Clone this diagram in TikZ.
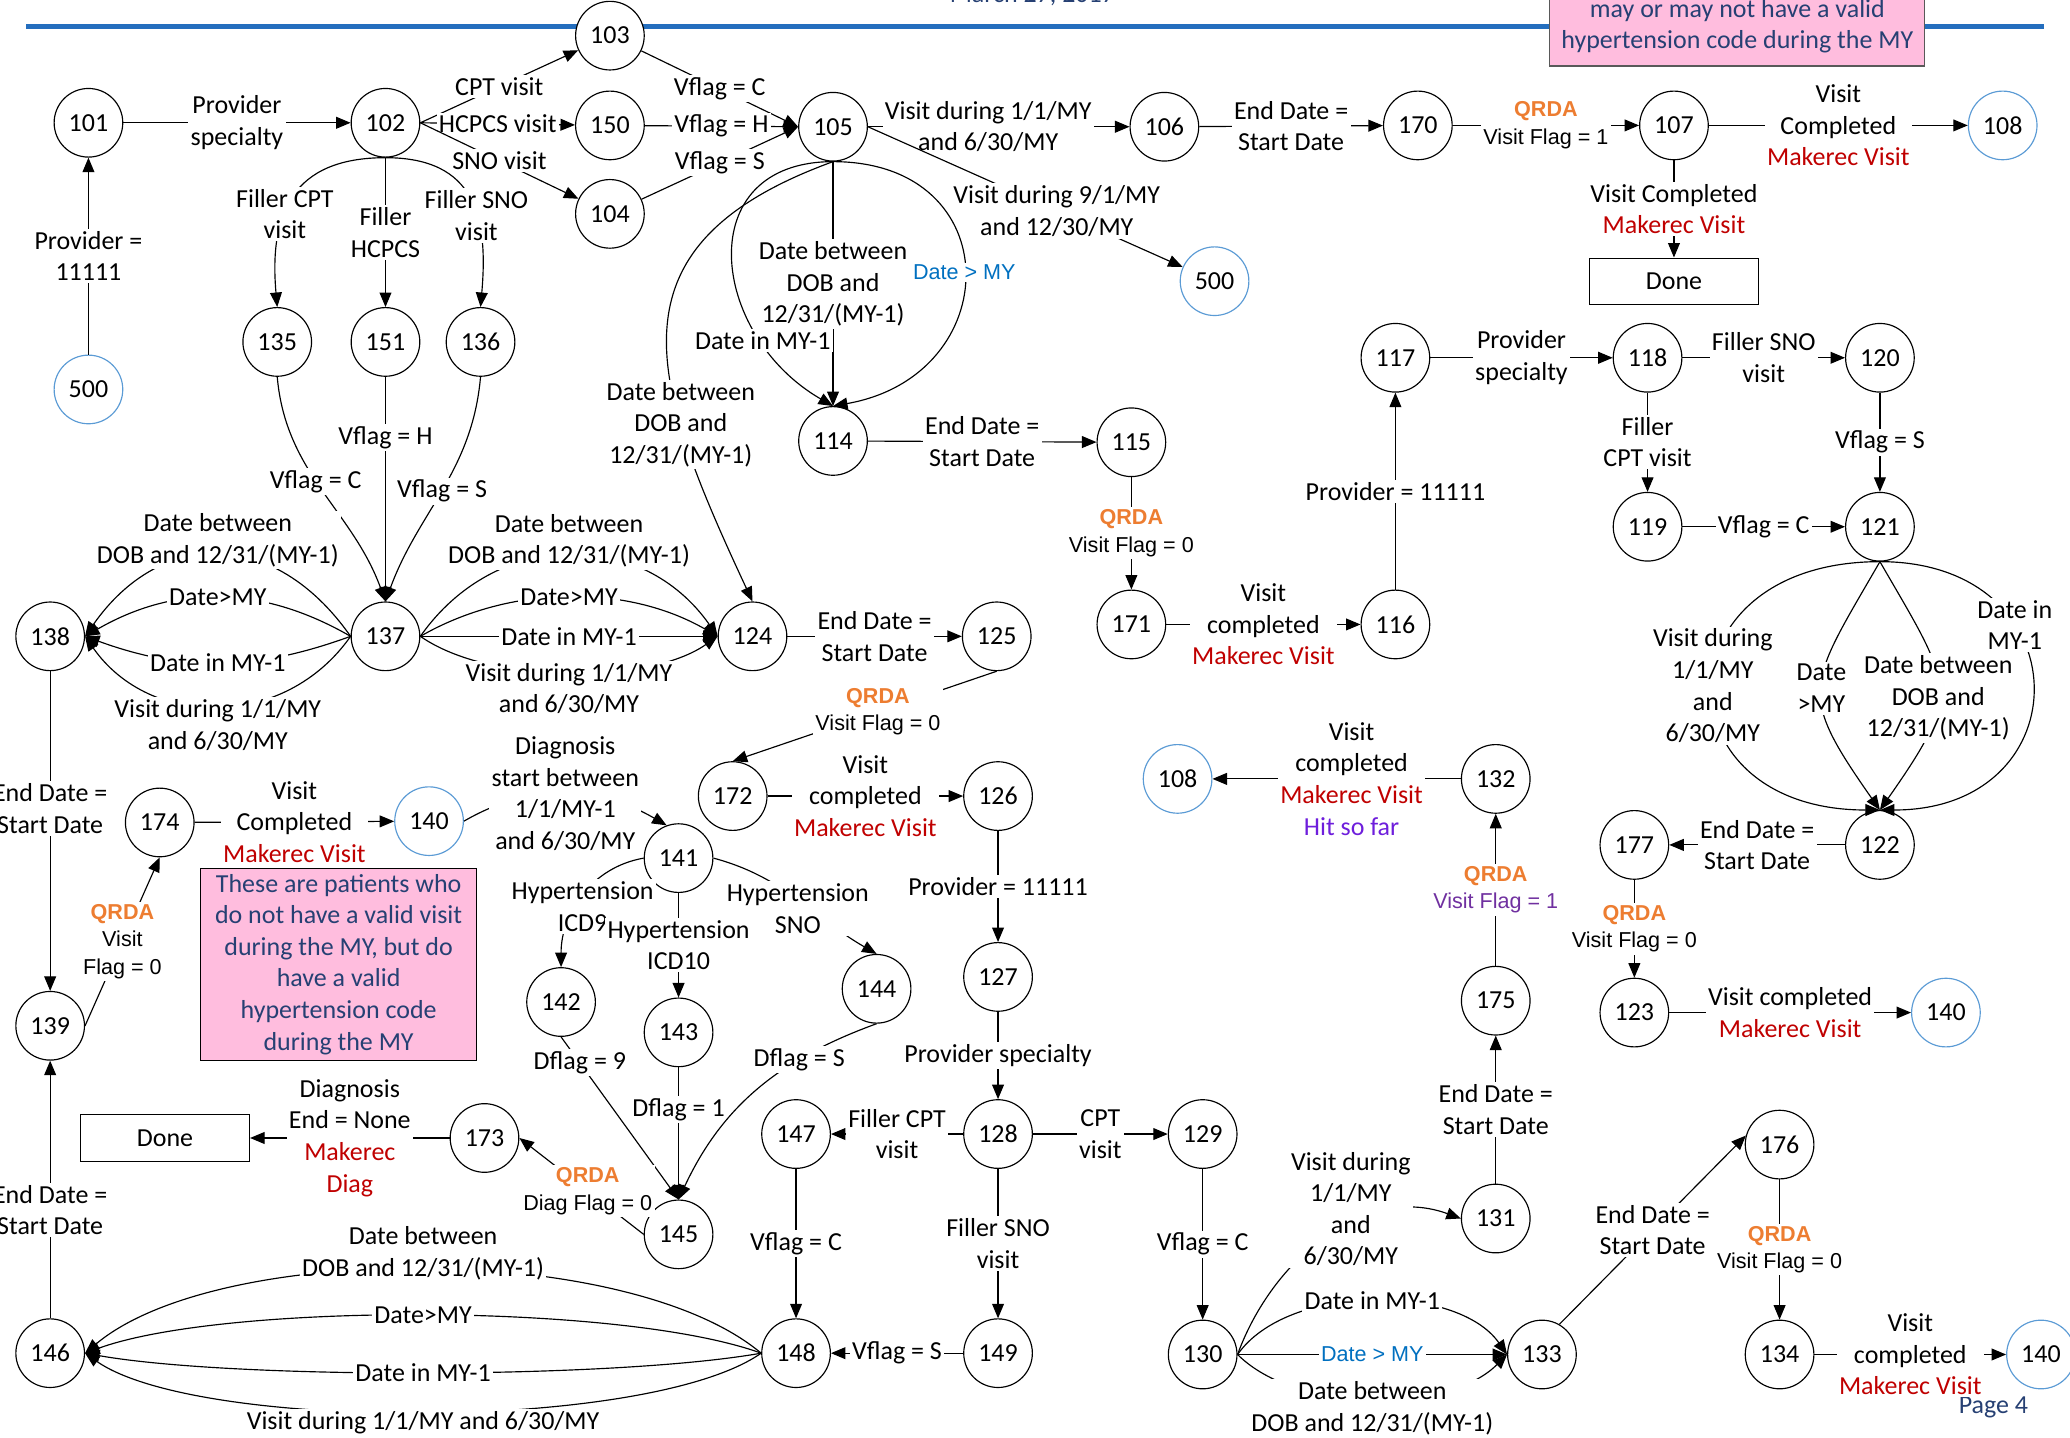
\documentclass[tikz,border=0pt]{standalone}
\usepackage{fontspec}
\setmainfont{Carlito}
\setsansfont{Liberation Sans}
\usepackage{tikz}
\usetikzlibrary{arrows.meta}

\definecolor{mkred}{RGB}{192,0,0}
\definecolor{qorange}{RGB}{237,125,49}
\definecolor{dtblue}{RGB}{0,112,192}
\definecolor{circblue}{RGB}{91,155,213}
\definecolor{hdrblue}{RGB}{36,110,190}
\definecolor{notepink}{RGB}{255,189,222}
\definecolor{notetext}{RGB}{38,64,115}
\definecolor{vfpurple}{RGB}{112,48,160}
\definecolor{hitviolet}{RGB}{110,30,220}

\newcommand{\mainsize}{\fontsize{11.2}{13.6}\selectfont}
\newcommand{\qsize}{\fontsize{9.3}{11.9}\selectfont\sffamily}
\newcommand{\mkv}{\textcolor{mkred}{Makerec Visit}}
\newcommand{\qrdatag}{{\bfseries\color{qorange}QRDA}}

\begin{document}
\begin{tikzpicture}[
    x=0.02cm, y=-0.02cm, % one unit = one pixel of the layout
    line width=0.5pt,
    >={Triangle[length=2.2mm,width=1.8mm]},
    st/.style={circle, draw, fill=white, minimum size=1.04cm, inner sep=0pt, font=\mainsize},
    stb/.style={st, draw=circblue},
    donebox/.style={draw, fill=white, minimum width=2.56cm, minimum height=0.7cm, font=\mainsize},
    lbl/.style={fill=white, inner sep=1pt, align=center, font=\mainsize},
    qlbl/.style={fill=white, inner sep=1pt, align=center, font=\qsize},
    note/.style={draw, fill=notepink, text=notetext, align=center, font=\mainsize, inner sep=2pt}
]
\useasboundingbox (0,0) rectangle (1568,1089);

% header
\node (datehdr) [text=notetext, font=\mainsize, anchor=base] at (782,2) {March 27, 2017};
\draw[hdrblue, line width=2pt] (20,20) -- (1548,20);
\draw[draw=black!65, fill=notepink] (1174,-40) rectangle (1458,50);
\node (note1) [text=notetext, font=\mainsize, align=center] at (1316,20) {may or may not have a valid\\hypertension code during the MY};
\node (pagenum) [text=notetext, font=\mainsize] at (1510,1066) {Page 4};

% states
\node (s101) [st] at (67,93) {101};
\node (s102) [st] at (292,93) {102};
\node (s103) [st] at (462,27) {103};
\node (s150) [st] at (462,95) {150};
\node (s104) [st] at (462,162) {104};
\node (s105) [st] at (631,96) {105};
\node (s106) [st] at (882,96) {106};
\node (s170) [st] at (1074,95) {170};
\node (s107) [st] at (1268,95) {107};
\node (s108a) [stb] at (1517,95) {108};
\node (done1) [donebox] at (1268,213) {Done};
\node (s500a) [stb] at (920,213) {500};
\node (s500b) [stb] at (67,295) {500};
\node (s135) [st] at (210,259) {135};
\node (s151) [st] at (292,259) {151};
\node (s136) [st] at (364,259) {136};
\node (s114) [st] at (631,334) {114};
\node (s115) [st] at (857,335) {115};
\node (s117) [st] at (1057,271) {117};
\node (s118) [st] at (1248,271) {118};
\node (s120) [st] at (1424,271) {120};
\node (s119) [st] at (1248,399) {119};
\node (s121) [st] at (1424,399) {121};
\node (s171) [st] at (857,473) {171};
\node (s116) [st] at (1057,473) {116};
\node (s138) [st] at (38,482) {138};
\node (s137) [st] at (292,482) {137};
\node (s124) [st] at (570,482) {124};
\node (s125) [st] at (755,482) {125};
\node (s172) [st] at (555,603) {172};
\node (s126) [st] at (756,603) {126};
\node (s174) [st] at (121,623) {174};
\node (s140a) [stb] at (325,622) {140};
\node (s141) [st] at (514,650) {141};
\node (s108b) [stb] at (892,590) {108};
\node (s132) [st] at (1133,590) {132};
\node (s177) [st] at (1238,640) {177};
\node (s122) [st] at (1424,640) {122};
\node (s123) [st] at (1238,767) {123};
\node (s140b) [stb] at (1474,767) {140};
\node (s139) [st] at (38,777) {139};
\node (s142) [st] at (425,759) {142};
\node (s143) [st] at (514,782) {143};
\node (s144) [st] at (664,749) {144};
\node (s127) [st] at (756,740) {127};
\node (s175) [st] at (1133,758) {175};
\node (s173) [st] at (367,862) {173};
\node (done2) [donebox] at (125,862) {Done};
\node (s147) [st] at (603,859) {147};
\node (s128) [st] at (756,859) {128};
\node (s129) [st] at (911,859) {129};
\node (s131) [st] at (1133,923) {131};
\node (s176) [st] at (1348,867) {176};
\node (s145) [st] at (514,935) {145};
\node (s146) [st] at (38,1025) {146};
\node (s148) [st] at (603,1025) {148};
\node (s149) [st] at (756,1025) {149};
\node (s130) [st] at (911,1026) {130};
\node (s133) [st] at (1168,1026) {133};
\node (s134) [st] at (1348,1026) {134};
\node (s140c) [stb] at (1546,1026) {140};
\node (note2) [note, minimum width=4.18cm, minimum height=2.9cm] at (256.5,730.5) {These are patients who\\do not have a valid visit\\during the MY, but do\\have a valid\\hypertension code\\during the MY};

% top row
\draw[->] (s500b) -- node[lbl]{Provider =\\11111} (s101);
\draw[->] (s101) -- node[lbl]{Provider\\specialty} (s102);
\draw[->] (s102.east) -- node[lbl]{CPT visit} (s103);
\draw[->] (s102.east) -- node[lbl]{HCPCS visit} (s150);
\draw[->] (s102.east) -- node[lbl]{SNO visit} (s104);
\draw[->] (s103) -- node[lbl]{Vflag = C} (s105.west);
\draw[->] (s150) -- node[lbl]{Vflag = H} (s105.west);
\draw[->] (s104) -- node[lbl]{Vflag = S} (s105.west);
\draw[->] (s105.east) -- node[lbl,pos=.46]{Visit during 1/1/MY\\and 6/30/MY} (s106);
\draw[->] (s105.east) -- node[lbl,pos=.6]{Visit during 9/1/MY\\and 12/30/MY} (s500a);
\draw[->] (s106) -- node[lbl]{End Date =\\Start Date} (s170);
\draw[->] (s170) -- node[qlbl]{\qrdatag\\Visit Flag = 1} (s107);
\draw[->] (s107) -- node[lbl]{Visit\\Completed\\\mkv} (s108a);
\draw[->] (s107) -- node[lbl]{Visit Completed\\\mkv} (done1);

% fillers under 102
\draw[->] (s102.south) to[out=180,in=95,looseness=1.3] node[lbl,pos=.6]{Filler CPT\\visit} (s135.north);
\draw[->] (s102) -- node[lbl]{Filler\\HCPCS} (s151);
\draw[->] (s102.south) to[out=0,in=85,looseness=1.3] node[lbl,pos=.6]{Filler SNO\\visit} (s136.north);
\draw[->] (s135.south) to[out=-85,in=110] node[lbl,pos=.45]{Vflag = C} (s137.north);
\draw[->] (s151) -- node[lbl,pos=.27]{Vflag = H} (s137);
\draw[->] (s136.south) to[out=-95,in=70] node[lbl]{Vflag = S} (s137.north);

% 137 fans
\draw[->] (s137.west) to[out=125,in=55,looseness=1.28] node[lbl,yshift=0.22cm]{Date between\\DOB and 12/31/(MY-1)} (s138.east);
\draw[->] (s137.west) to[out=150,in=30] node[lbl]{Date>MY} (s138.east);
\draw[->] (s137.west) to[out=200,in=-20] node[lbl]{Date in MY-1} (s138.east);
\draw[->] (s137.west) to[out=235,in=-55,looseness=1.1] node[lbl,yshift=-0.28cm]{Visit during 1/1/MY\\and 6/30/MY} (s138.east);
\draw[->] (s137.east) to[out=55,in=125,looseness=1.14] node[lbl,yshift=0.22cm]{Date between\\DOB and 12/31/(MY-1)} (s124.west);
\draw[->] (s137.east) to[out=30,in=150,looseness=.9] node[lbl]{Date>MY} (s124.west);
\draw[->] (s137.east) -- node[lbl]{Date in MY-1} (s124.west);
\draw[->] (s137.east) to[out=-35,in=215,looseness=.73] node[lbl,yshift=-0.24cm]{Visit during 1/1/MY\\and 6/30/MY} (s124.west);

% 105 down to 114 and 124
\draw[->] (s105) -- node[lbl]{Date between\\DOB and\\12/31/(MY-1)} (s114);
\draw[->] (s105.south) to[out=0,in=10,looseness=1.85] node[qlbl,text=dtblue]{Date > MY} (s114.north);
\draw[->] (s105.south) to[out=200,in=115,looseness=1.4] node[lbl,pos=.7]{Date between\\DOB and\\12/31/(MY-1)} (s124.north);
\draw[->] (s105.south) to[out=180,in=150,looseness=1.5] node[lbl,pos=.76]{Date in MY-1} (s114.north);
\draw[->] (s114) -- node[lbl]{End Date =\\Start Date} (s115);
\draw[->] (s115) -- node[qlbl]{\qrdatag\\Visit Flag = 0} (s171);
\draw[->] (s171) -- node[lbl]{Visit\\completed\\\mkv} (s116);
\draw[->] (s116) -- node[lbl]{Provider = 11111} (s117);
\draw[->] (s117) -- node[lbl]{Provider\\specialty} (s118);
\draw[->] (s118) -- node[lbl]{Filler SNO\\visit} (s120);
\draw[->] (s118) -- node[lbl]{Filler\\CPT visit} (s119);
\draw[->] (s120) -- node[lbl]{Vflag = S} (s121);
\draw[->] (s119) -- node[lbl]{Vflag = C} (s121);

% 121 fans
\draw[->] (s121.south) to[out=180,in=180,looseness=2.3] node[lbl]{Visit during\\1/1/MY\\and\\6/30/MY} (s122.north);
\draw[->] (s121.south) to[out=240,in=125,looseness=1.5] node[lbl]{Date\\>MY} (s122.north);
\draw[->] (s121.south) to[out=-60,in=55,looseness=1.5] node[lbl,pos=.55]{Date between\\DOB and\\12/31/(MY-1)} (s122.north);
\draw[->] (s121.south) to[out=0,in=0,looseness=2.1] node[lbl,pos=.33]{Date in\\MY-1} (s122.north);
\draw[->] (s122) -- node[lbl]{End Date =\\Start Date} (s177);
\draw[->] (s177) -- node[qlbl]{\qrdatag\\Visit Flag = 0} (s123);
\draw[->] (s123) -- node[lbl]{Visit completed\\\mkv} (s140b);

% 124 chain
\draw[->] (s124) -- node[lbl]{End Date =\\Start Date} (s125);
\draw[->] (s125.south) -- node[qlbl,pos=.45]{\qrdatag\\Visit Flag = 0} (s172.north);
\draw[->] (s172) -- node[lbl]{Visit\\completed\\\mkv} (s126);
\draw[->] (s126) -- node[lbl]{Provider = 11111} (s127);
\draw[->] (s127) -- node[lbl]{Provider specialty} (s128);
\draw[->] (s128) -- node[lbl]{Filler CPT\\visit} (s147);
\draw[->] (s128) -- node[lbl]{CPT\\visit} (s129);
\draw[->] (s128) -- node[lbl]{Filler SNO\\visit} (s149);
\draw[->] (s149) -- node[lbl]{Vflag = S} (s148);
\draw[->] (s147) -- node[lbl]{Vflag = C} (s148);

% 148 fans
\draw[->] (s148.west) to[out=140,in=40,looseness=.66] node[lbl,yshift=0.24cm]{Date between\\DOB and 12/31/(MY-1)} (s146.east);
\draw[->] (s148.west) to[out=160,in=20,looseness=.56] node[lbl]{Date>MY} (s146.east);
\draw[->] (s148.west) to[out=190,in=-10,looseness=.57] node[lbl]{Date in MY-1} (s146.east);
\draw[->] (s148.west) to[out=215,in=-35,looseness=.52] node[lbl,yshift=-0.16cm]{Visit during 1/1/MY and 6/30/MY} (s146.east);

% diagnosis branch
\draw[->] (s174) -- node[lbl]{Visit\\Completed\\\mkv} (s140a);
\draw[->] (s140a.east) to[out=30,in=150] node[lbl]{Diagnosis\\start between\\1/1/MY-1\\and 6/30/MY} (s141.110);
\draw[->] (s141.west) to[out=190,in=90] node[lbl,yshift=-0.16cm]{Hypertension\\ICD9} (s142.north);
\draw[->] (s141.east) to[out=-15,in=150] node[lbl,yshift=-0.14cm]{Hypertension\\SNO} (s144.north);
\draw[->] (s141) -- node[lbl]{Hypertension\\ICD10} (s143);
\draw[->] (s142.south) -- node[lbl,pos=.16]{Dflag = 9} (s145.north);
\draw[->] (s143) -- node[lbl,pos=.32]{Dflag = 1} (s145.north);
\draw[->] (s144.south) to[out=200,in=65] node[lbl,pos=.3]{Dflag = S} (s145.north);
\draw[->] (s145.west) -- node[qlbl,pos=.45]{\qrdatag\\Diag Flag = 0} (s173.east);
\draw[->] (s173) -- node[lbl]{Diagnosis\\End = None\\\textcolor{mkred}{Makerec}\\\textcolor{mkred}{Diag}} (done2);

% left column
\draw[->] (s138) -- node[lbl,pos=.43]{End Date =\\Start Date} (s139);
\draw[->] (s146) -- node[lbl,pos=.42]{End Date =\\Start Date} (s139);
\draw[->] (s139.east) -- node[qlbl]{\qrdatag\\Visit\\Flag = 0} (s174.south);

% bottom right
\draw[->] (s129) -- node[lbl]{Vflag = C} (s130);
\draw[->] (s130.east) to[out=70,in=160] node[lbl,pos=.6,yshift=0.22cm]{Visit during\\1/1/MY\\and\\6/30/MY} (s131.west);
\draw[->] (s130.east) to[out=55,in=125,looseness=.83] node[lbl]{Date in MY-1} (s133.west);
\draw[->] (s130) -- node[qlbl,text=dtblue]{Date > MY} (s133);
\draw[->] (s130.east) to[out=-45,in=225,looseness=.8] node[lbl,yshift=-0.14cm]{Date between\\DOB and 12/31/(MY-1)} (s133.west);
\draw[->] (s131) -- node[lbl]{End Date =\\Start Date} (s175);
\draw[->] (s175) -- node[qlbl]{\qrdatag\\\textcolor{vfpurple}{Visit Flag = 1}} (s132);
\draw[->] (s132) -- node[lbl,pos=.44]{Visit\\completed\\\mkv\\\textcolor{hitviolet}{Hit so far}} (s108b);
\draw[->] (s133.60) -- node[lbl]{End Date =\\Start Date} (s176.165);
\draw[->] (s176) -- node[qlbl]{\qrdatag\\Visit Flag = 0} (s134);
\draw[->] (s134) -- node[lbl]{Visit\\completed\\\mkv} (s140c);
\end{tikzpicture}
\end{document}
